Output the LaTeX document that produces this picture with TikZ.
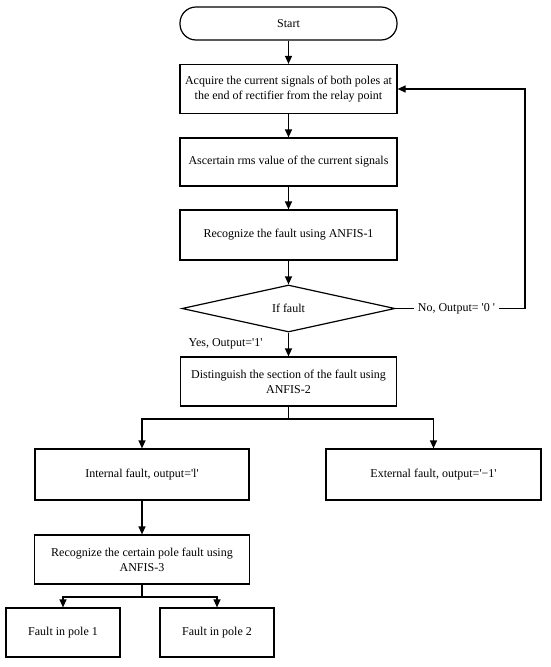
\documentclass[tikz,border=0pt]{standalone}
\usepackage{fontspec}
\setmainfont{Liberation Serif}
\usetikzlibrary{shapes.geometric,arrows.meta}
\begin{document}
\begin{tikzpicture}[x=1pt,y=-1pt,
  every node/.style={font=\fontsize{12}{15}\selectfont},
  box/.style={draw, line width=1.2pt, align=center, inner sep=2pt},
  startbox/.style={box, rounded corners=16pt},
  decision/.style={draw, line width=1.2pt, diamond, aspect=4.5, inner sep=0pt},
  lbl/.style={fill=white, inner sep=4pt},
  conn/.style={line width=1.2pt},
  arr/.style={conn, -{Triangle[length=8pt,width=7pt]}}]
\useasboundingbox (0,0) rectangle (550,667);
\fill[white] (0,0) rectangle (550,667);

\node[startbox, minimum width=217pt, minimum height=33pt] (st) at (288.5,23.5) {Start};
\node[box, minimum width=217pt, minimum height=49pt] (b1) at (288.5,89) {Acquire the current signals of both poles at\\the end of rectifier from the relay point};
\node[box, minimum width=217pt, minimum height=48pt] (b2) at (288.5,162) {Ascertain rms value of the current signals};
\node[box, minimum width=217pt, minimum height=50pt] (b3) at (288.5,235) {Recognize the fault using ANFIS-1};
\node[decision, minimum width=213pt, minimum height=47pt] (dia) at (288.5,308.5) {If fault};
\node[box, minimum width=216pt, minimum height=49pt] (b4) at (288.5,381.5) {Distinguish the section of the fault using\\ANFIS-2};
\node[box, minimum width=214pt, minimum height=51pt] (int) at (142,474.5) {Internal fault, output=\textquotesingle l\textquotesingle};
\node[box, minimum width=215pt, minimum height=51pt] (ext) at (433.5,474.5) {External fault, output=\textquotesingle −1\textquotesingle};
\node[box, minimum width=215pt, minimum height=49pt] (b5) at (142,559.5) {Recognize the certain pole fault using\\ANFIS-3};
\node[box, minimum width=114pt, minimum height=49pt] (p1) at (63,632.5) {Fault in pole 1};
\node[box, minimum width=114pt, minimum height=49pt] (p2) at (217,632.5) {Fault in pole 2};

\node[inner sep=0pt] (yes) at (225.5,344) {Yes, Output=\textquotesingle 1\textquotesingle};

\draw[arr] (st) -- (b1);
\draw[arr] (b1) -- (b2);
\draw[arr] (b2) -- (b3);
\draw[arr] (b3) -- (dia);
\draw[arr] (dia) -- (b4);

\coordinate (c1) at (525,308.5);
\coordinate (c2) at (525,89);
\draw[arr] (dia.east) -- node[lbl, pos=0.47] {No, Output= \textquotesingle 0 \textquotesingle} (c1) -- (c2) -- (b1.east);

\coordinate (j1) at (288.5,419);
\draw[conn] (b4.south) -- (j1);
\draw[arr] (j1) -| (int.north);
\draw[arr] (j1) -| (ext.north);

\draw[arr] (int) -- (b5);

\coordinate (j2) at (142,597);
\draw[conn] (b5.south) -- (j2);
\draw[arr] (j2) -| (p1.north);
\draw[arr] (j2) -| (p2.north);
\end{tikzpicture}
\end{document}
